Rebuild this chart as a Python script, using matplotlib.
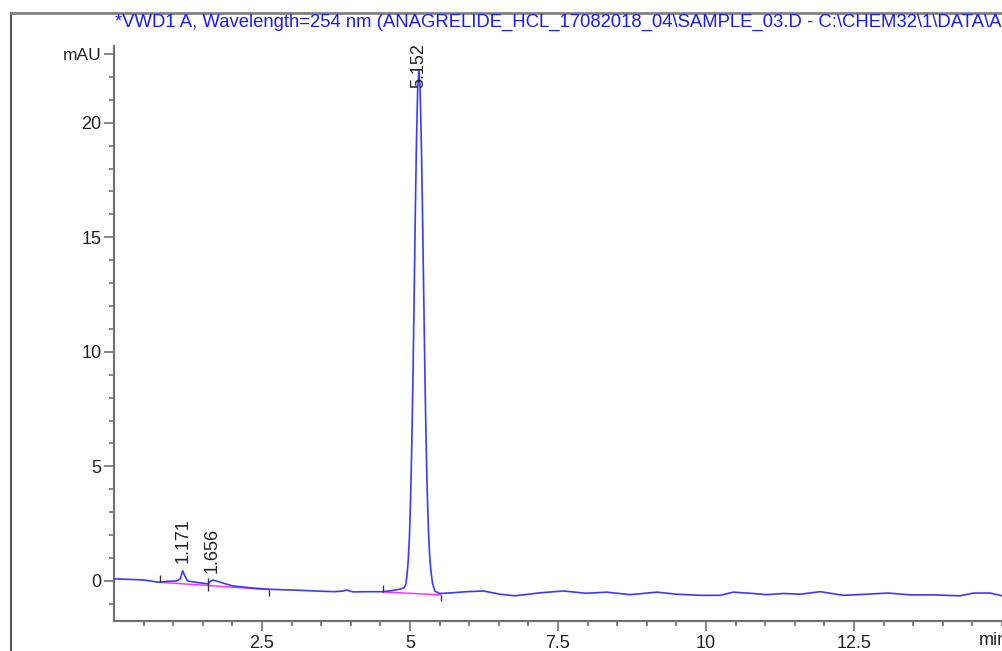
import matplotlib
matplotlib.use("Agg")
import matplotlib.pyplot as plt
from matplotlib.lines import Line2D

plt.rcParams['font.family'] = ['Liberation Sans', 'DejaVu Sans']

# signal (min, mAU)
time = [0.00, 0.32, 0.50, 0.61, 0.70, 0.78, 0.90, 1.06, 1.12, 1.16, 1.20, 1.24,
        1.35, 1.47, 1.59, 1.63, 1.67, 1.72, 1.79, 1.90, 2.01, 2.30, 2.58, 2.90,
        3.14, 3.50, 3.71, 3.85, 3.93, 4.04, 4.30, 4.54, 4.70, 4.83, 4.90, 4.93,
        4.95, 4.97, 4.99, 5.01, 5.03, 5.05, 5.07, 5.09, 5.11, 5.13, 5.152,
        5.17, 5.19, 5.21, 5.23, 5.25, 5.27, 5.29, 5.31, 5.33, 5.35, 5.38,
        5.42, 5.50, 5.70, 5.96,
        6.24, 6.52, 6.77, 7.20, 7.59, 7.98, 8.32, 8.72, 9.17, 9.50, 9.90,
        10.24, 10.46, 10.80, 11.02, 11.31, 11.59, 11.93, 12.32, 12.71, 13.08,
        13.45, 13.84, 14.29, 14.52, 14.80, 15.00, 15.40]
signal = [0.09, 0.06, 0.04, 0.00, -0.04, -0.06, -0.02, 0.00, 0.10, 0.44, 0.20, 0.00,
          -0.05, -0.09, -0.13, -0.02, 0.04, 0.00, -0.05, -0.14, -0.22, -0.30, -0.36, -0.39,
          -0.41, -0.45, -0.47, -0.45, -0.40, -0.48, -0.47, -0.47, -0.42, -0.36, -0.30, -0.15,
          0.25, 0.9, 1.9, 3.6, 5.9, 8.9, 12.4, 16.1, 19.3, 21.5, 22.3,
          21.5, 19.3, 16.3, 12.8, 9.3, 6.3, 4.0, 2.3, 1.2, 0.5, -0.1,
          -0.45, -0.55, -0.52, -0.47,
          -0.44, -0.58, -0.65, -0.52, -0.44, -0.54, -0.49, -0.60, -0.49, -0.58, -0.63,
          -0.63, -0.49, -0.55, -0.60, -0.55, -0.58, -0.47, -0.63, -0.58, -0.53,
          -0.61, -0.61, -0.65, -0.53, -0.53, -0.65, -0.60]

# integration baselines and event marks
base_t = [[0.78, 2.62], [4.54, 5.52]]
base_v = [[-0.06, -0.38], [-0.48, -0.61]]
mark_t = [0.78, 1.59, 2.62, 4.54, 5.52]
mark_lo = [-0.06, -0.45, -0.68, -0.48, -0.88]
mark_hi = [0.26, 0.12, -0.38, -0.18, -0.61]

peak_rt = [1.171, 1.656, 5.152]
peak_lbl = ["1.171", "1.656", "5.152"]
label_y = [0.80, 0.36, 21.5]

xticks = [2.5, 5, 7.5, 10, 12.5]
xtick_lbl = ["2.5", "5", "7.5", "10", "12.5"]
yticks = [0, 5, 10, 15, 20, 23]
ytick_lbl = ["0", "5", "10", "15", "20", "mAU"]

title = ("*VWD1 A, Wavelength=254 nm (ANAGRELIDE_HCL_17082018_04\\SAMPLE_03.D - "
         "C:\\CHEM32\\1\\DATA\\ANAGRELIDE_HCL_17082018_04\\SAMPLE_03.D)")

fig = plt.figure(figsize=(10.02, 6.51), dpi=100)
ax = fig.add_axes([114/1002, 30/651, 15.5*59.2/1002, 575/651])

ax.plot(time, signal, color='#3a3aff', lw=1.2, zorder=3)
for bt, bv in zip(base_t, base_v):
    ax.plot(bt, bv, color='#ff33ff', lw=1.1, zorder=2)
ax.vlines(mark_t, mark_lo, mark_hi, color='#333333', lw=1.0, zorder=4)

for rt, lbl, ly in zip(peak_rt, peak_lbl, label_y):
    ax.text(rt, ly, lbl, rotation=90, ha='center', va='bottom',
            fontsize=13, color='#222222', zorder=5)

ax.set_xlim(0, 15.5)
ax.set_ylim(-1.75, 23.35)
ax.set_xticks(xticks)
ax.set_xticklabels(xtick_lbl)
ax.set_xticks([i * 0.5 for i in range(1, 31)], minor=True)
ax.set_yticks(yticks)
ax.set_yticklabels(ytick_lbl)
ax.set_yticks(list(range(-1, 23)), minor=True)

for s in ['top', 'right']:
    ax.spines[s].set_visible(False)
for s in ['left', 'bottom']:
    ax.spines[s].set_color('#707070')
    ax.spines[s].set_linewidth(1.5)

ax.tick_params(which='major', length=7, width=1.2, color='#707070',
               labelsize=13, labelcolor='#222222', pad=3)
ax.tick_params(which='minor', length=3.5, width=1.2, color='#707070')
ax.tick_params(axis='y', which='major', pad=2)
for lab in ax.get_yticklabels():
    if lab.get_text() == 'mAU':
        lab.set_fontsize(12.5)

ax.text(14.6, -2.25, 'min', ha='left', va='top', fontsize=13, color='#222222')

# outer frame of the report panel
fig.add_artist(Line2D([11/1002, 11/1002], [0, 1 - 13/651], color='#333333', lw=1.2))
fig.add_artist(Line2D([11/1002, 1], [1 - 13/651, 1 - 13/651], color='#808080', lw=2))

fig.text(115/1002, 1 - 22/651, title, color='#1a1aff', fontsize=13.3,
         ha='left', va='center')

fig.savefig('out.png', dpi=100)
